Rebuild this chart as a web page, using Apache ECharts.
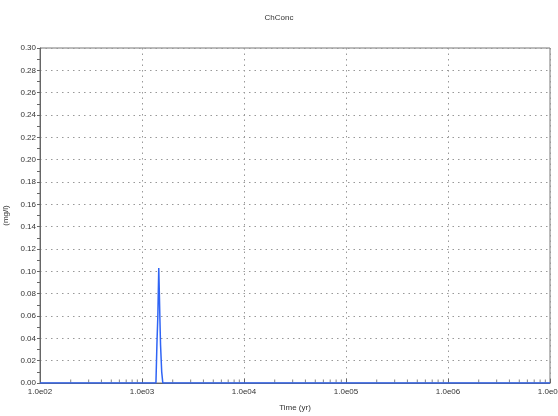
<!DOCTYPE html>
<html>
<head>
<meta charset="utf-8">
<script src="https://cdn.jsdelivr.net/npm/echarts@6/dist/echarts.min.js"></script>
<style>
html,body{margin:0;padding:0;background:#fff;}
#chart{width:558px;height:416px;}
</style>
</head>
<body>
<div id="chart"></div>
<script>
// Data
const chartTitle = 'ChConc';
const xAxisName = 'Time (yr)';
const yAxisName = '(mg/l)';
const timeYears = [100, 1370, 1400, 1430, 1460, 1480, 1500, 1520, 1560, 1600, 10000000];
const concMgL   = [0,   0,    0.034, 0.06, 0.103, 0.08, 0.055, 0.034, 0.01, 0,   0];
const xDecades = [100, 1000, 10000, 100000, 1000000, 10000000];

// minor tick positions of the log axis (2..9 per decade) – axis decoration only
const minorX = [];
for (let i = 0; i < xDecades.length - 1; i++) {
  for (let k = 2; k <= 9; k++) minorX.push([xDecades[i] * k, 0]);
}

const series = timeYears.map((t, i) => [t, concMgL[i]]);

const chart = echarts.init(document.getElementById('chart'));
const axisColor = '#666';
const labelStyle = { color: '#333', fontSize: 8, fontFamily: 'Liberation Sans, Arial, sans-serif' };

chart.setOption({
  animation: false,
  backgroundColor: '#fff',
  title: {
    text: chartTitle,
    left: 'center',
    top: 9,
    textStyle: { fontSize: 8, fontWeight: 'normal', color: '#333', fontFamily: 'Liberation Sans, Arial, sans-serif' }
  },
  grid: {
    left: 40, right: 8, top: 48, bottom: 33,
    containLabel: false,
    outerBoundsMode: 'none',
    show: true, borderColor: '#777', borderWidth: 1, backgroundColor: 'transparent'
  },
  xAxis: {
    type: 'log',
    logBase: 10,
    min: 100,
    max: 10000000,
    name: xAxisName,
    nameLocation: 'middle',
    nameGap: 21,
    nameTextStyle: labelStyle,
    axisLine: { show: true, lineStyle: { color: axisColor, width: 1 } },
    axisTick: { show: true, inside: true, length: 4, lineStyle: { color: axisColor } },
    axisLabel: {
      ...labelStyle,
      margin: 5,
      hideOverlap: false,
      formatter: v => {
        const e = Math.round(Math.log10(v));
        return '1.0e' + (e < 10 ? '0' + e : e);
      }
    },
    splitLine: { show: true, lineStyle: { color: '#999', type: [1.5, 4], width: 1 } }
  },
  yAxis: {
    type: 'value',
    min: 0,
    max: 0.30,
    interval: 0.02,
    name: yAxisName,
    nameLocation: 'middle',
    nameGap: 25,
    nameRotate: 90,
    nameTextStyle: labelStyle,
    axisLine: { show: true, lineStyle: { color: axisColor, width: 1 } },
    axisTick: { show: true, length: 3, lineStyle: { color: axisColor } },
    minorTick: { show: true, splitNumber: 2, length: 3, lineStyle: { color: axisColor } },
    axisLabel: { ...labelStyle, margin: 4, formatter: v => v.toFixed(2) },
    splitLine: { show: true, lineStyle: { color: '#999', type: [1.5, 4], width: 1 } }
  },
  series: [
    {
      type: 'scatter',
      data: minorX,
      symbol: 'rect',
      symbolSize: [1, 3],
      symbolOffset: [0, -2],
      itemStyle: { color: axisColor },
      silent: true,
      z: 1
    },
    {
      type: 'line',
      data: series,
      showSymbol: false,
      lineStyle: { color: '#2f64f5', width: 1.5 },
      z: 3
    }
  ]
});
</script>
</body>
</html>
